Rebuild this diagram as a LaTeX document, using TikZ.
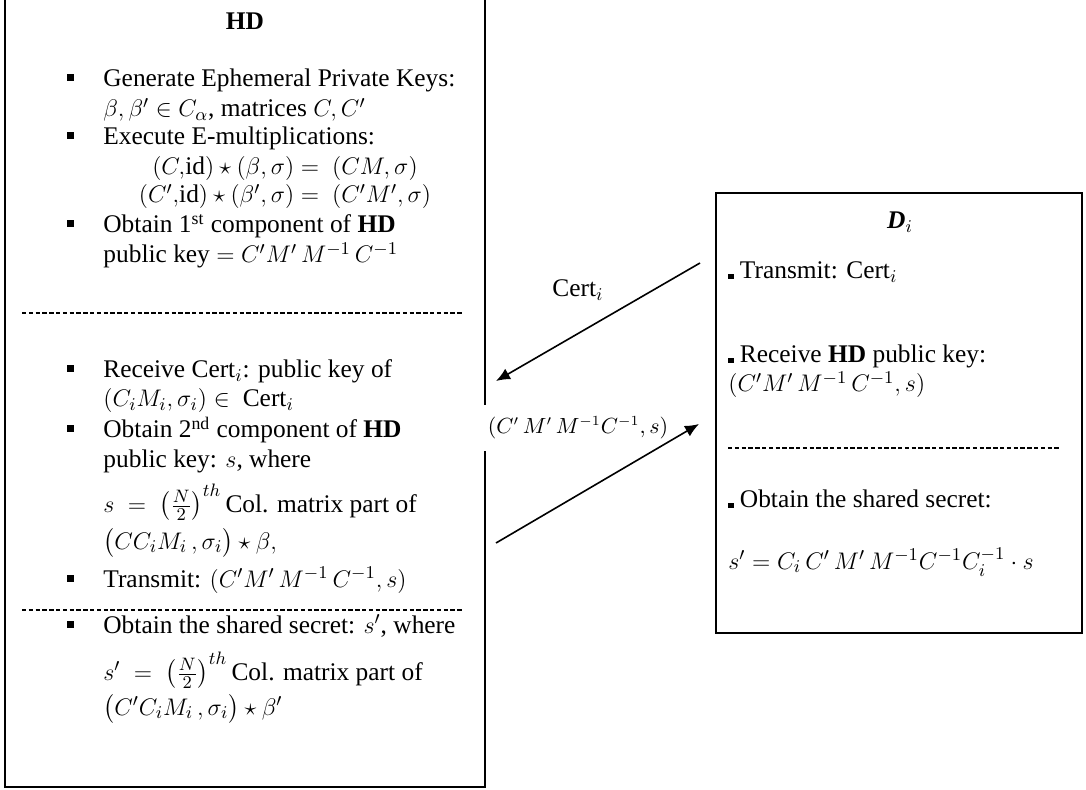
\documentclass[tikz,border=0pt]{standalone}
\usepackage{amsmath}
\usepackage{fontspec}
\setmainfont{Liberation Serif}
\usetikzlibrary{arrows.meta, positioning}
\newcommand{\bodyfont}{\fontsize{12.7}{15}\selectfont}

\begin{document}
\begin{tikzpicture}[x=0.5pt, y=-0.5pt,
    txt/.style={anchor=base west, inner sep=0pt, font=\bodyfont},
    title/.style={anchor=base, inner sep=0pt, font=\bodyfont\bfseries},
    boxline/.style={line width=1.2pt},
    sepline/.style={line width=0.6pt, dash pattern=on 2.2pt off 1.2pt},
    msg/.style={line width=0.8pt, -{Latex[length=7pt,width=6pt]}}]
    \useasboundingbox (0,0) rectangle (1086,790);

    % HD box, its top edge runs off the page
    \coordinate (hdTL) at (5,0);
    \coordinate (hdBL) at (5,787);
    \coordinate (hdBR) at (485,787);
    \coordinate (hdTR) at (485,0);
    \draw[boxline] (hdTL) -- (hdBL) -- (hdBR) -- (hdTR);

    \node[title] (hdTitle) at (245,30) {HD};
    \node[txt] (genA) at (103,87) {Generate Ephemeral Private Keys:};
    \node[txt] (genB) at (103,117) {$\beta,\beta'\in C_\alpha$, matrices $C,C'$};
    \node[txt] (exeA) at (103,145) {Execute E-multiplications:};
    \node[txt, anchor=base] (eqA) at (285,175) {$(C,$id$)\star(\beta,\sigma)=\ (CM,\sigma)$};
    \node[txt, anchor=base] (eqB) at (285,203) {$(C',$id$)\star(\beta',\sigma)=\ (C'M',\sigma)$};
    \node[txt] (obtA) at (103,233) {Obtain 1\textsuperscript{st} component of \textbf{HD}};
    \node[txt] (obtB) at (103,263) {public key $=C'M'\,M^{-1}\,C^{-1}$};

    \coordinate (sepAL) at (22,313);
    \coordinate (sepAR) at (462,313);
    \draw[sepline] (sepAL) -- (sepAR);

    \node[txt] (recA) at (103,378) {Receive $\mathrm{Cert}_i$: public key of};
    \node[txt] (recB) at (103,407) {$(C_iM_i,\sigma_i)\in\ \mathrm{Cert}_i$};
    \node[txt] (obtC) at (103,438) {Obtain 2\textsuperscript{nd} component of \textbf{HD}};
    \node[txt] (obtD) at (103,468) {public key: $s$, where};
    \node[txt] (sEq) at (103,512) {$s\;=\;\left(\tfrac{N}{2}\right)^{th}$\,Col. matrix part of};
    \node[txt] (sTerm) at (103,549) {$\bigl(CC_iM_i\,,\sigma_i\bigr)\star\beta,$};
    \node[txt] (trHD) at (103,587) {Transmit: $(C'M'\,M^{-1}\,C^{-1},s)$};

    \coordinate (sepBL) at (22,610);
    \coordinate (sepBR) at (462,610);
    \draw[sepline] (sepBL) -- (sepBR);

    \node[txt] (secA) at (103,633) {Obtain the shared secret: $s'$, where};
    \node[txt] (secB) at (103,680) {$s'\;=\;\left(\tfrac{N}{2}\right)^{th}$\,Col. matrix part of};
    \node[txt] (secC) at (103,715) {$\bigl(C'C_iM_i\,,\sigma_i\bigr)\star\beta'$};

    \foreach \b in {87,145,233,378,438,587,633}
        \fill (67,\b-12.5) rectangle ++(7,7);

    % D_i box
    \coordinate (diTL) at (716,193);
    \coordinate (diBR) at (1082,633);
    \draw[boxline] (diTL) rectangle (diBR);

    \node[title] (diTitle) at (900,229) {{\itshape D}$_i$};
    \node[txt] (trDi) at (728,279) {\rule{2.6pt}{2.6pt} Transmit: $\mathrm{Cert}_i$};
    \node[txt] (rcvA) at (728,363) {\rule{2.6pt}{2.6pt} Receive \textbf{HD} public key:};
    \node[txt] (rcvB) at (728,392) {$(C'M'\,M^{-1}\,C^{-1},s)$};

    \coordinate (sepCL) at (728,448);
    \coordinate (sepCR) at (1060,448);
    \draw[sepline] (sepCL) -- (sepCR);

    \node[txt] (secDA) at (728,508) {\rule{2.6pt}{2.6pt} Obtain the shared secret:};
    \node[txt] (secDB) at (728,569) {$s'=C_i\,C'\,M'\,M^{-1}C^{-1}C_i^{-1}\cdot s$};

    % messages
    \node[font=\bodyfont] (certLbl) at (578,290) {$\mathrm{Cert}_i$};
    \node[font=\fontsize{10.5}{12}\selectfont, fill=white, inner xsep=9pt, minimum height=23pt] (keyLbl) at (578,428) {$(C'\,M'\,M^{-1}C^{-1},s)$};

    \coordinate (certFrom) at (700,263);
    \coordinate (certTo) at (496,381);
    \coordinate (keyFrom) at (496,543);
    \coordinate (keyTo) at (699,424);
    \draw[msg] (certFrom) -- (certTo);
    \draw[msg] (keyFrom) -- (keyTo);
\end{tikzpicture}
\end{document}
